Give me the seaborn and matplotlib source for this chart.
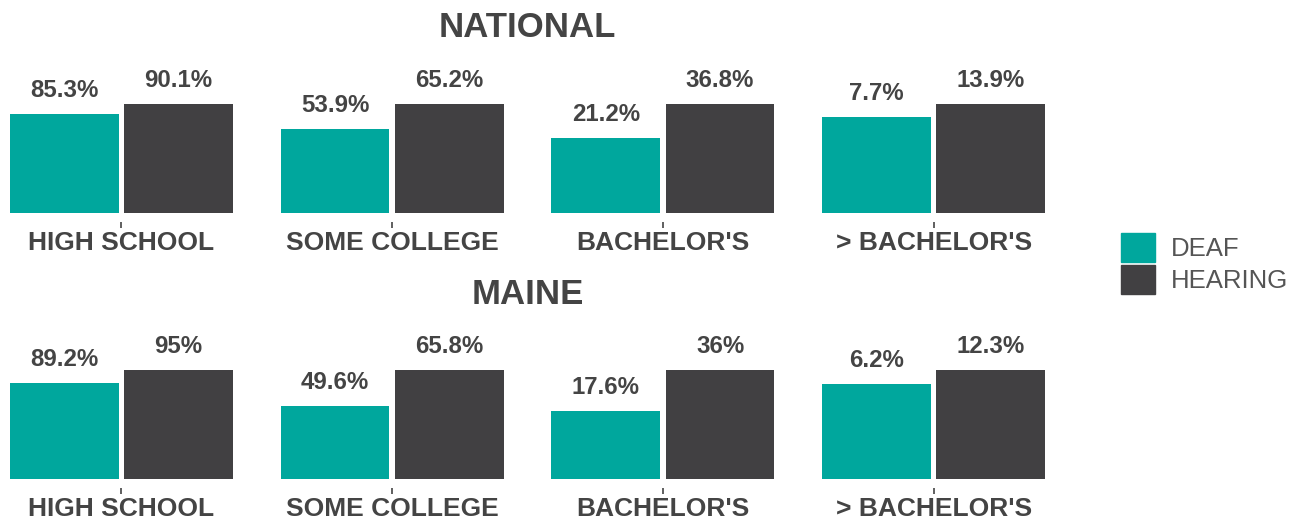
import matplotlib
matplotlib.use("Agg")
import matplotlib.pyplot as plt
import seaborn as sns
import pandas as pd

LEVELS = ["HIGH SCHOOL", "SOME COLLEGE", "BACHELOR'S", "> BACHELOR'S"]
GROUPS = ["DEAF", "HEARING"]
NATIONAL_DEAF = [85.3, 53.9, 21.2, 7.7]
NATIONAL_HEARING = [90.1, 65.2, 36.8, 13.9]
MAINE_DEAF = [89.2, 49.6, 17.6, 6.2]
MAINE_HEARING = [95, 65.8, 36, 12.3]

PALETTE = {"DEAF": "#00a79d", "HEARING": "#414042"}
TEXT = "#444444"
SPAN = 49  # each panel shows this many points below the hearing bar

sns.set_theme(style="white")
plt.rcParams["font.family"] = ["Liberation Sans", "DejaVu Sans"]

fig = plt.figure(figsize=(12.9, 5.17), dpi=100)
W, H = 1290, 517


def draw_row(deaf, hearing, title, top_px, bottom_px, title_px):
    for i, level in enumerate(LEVELS):
        left = (10 + i * 270.7) / W
        ax = fig.add_axes([left, 1 - bottom_px / H, 223 / W, (bottom_px - top_px) / H])
        df = pd.DataFrame({"level": [level, level], "group": GROUPS,
                           "pct": [deaf[i], hearing[i]]})
        sns.barplot(data=df, x="level", y="pct", hue="group", hue_order=GROUPS,
                    palette=PALETTE, width=0.8, gap=0.05, saturation=1,
                    linewidth=0, legend=False, ax=ax)
        lo = max(deaf[i], hearing[i]) - SPAN
        for p in ax.patches:
            top = p.get_y() + p.get_height()
            p.set_y(lo)
            p.set_height(top - lo)
            ax.annotate(f"{top:g}%", (p.get_x() + p.get_width() / 2, top),
                        xytext=(0, 17), textcoords="offset pixels",
                        ha="center", va="baseline", fontsize=17.3,
                        fontweight="bold", color=TEXT, annotation_clip=False)
        ax.set_ylim(lo, lo + SPAN)
        ax.set_xlim(-0.39, 0.39)
        ax.set_xlabel("")
        ax.set_ylabel("")
        ax.set_yticks([])
        for s in ["top", "right", "left"]:
            ax.spines[s].set_visible(False)
        ax.spines["bottom"].set_position(("outward", 7))
        ax.spines["bottom"].set_visible(False)
        ax.tick_params(axis="x", bottom=True, length=4, width=1.2,
                       color=TEXT, pad=2, labelsize=19, labelcolor=TEXT)
        for lab in ax.get_xticklabels():
            lab.set_fontweight("bold")
    fig.text(527.5 / W, 1 - title_px / H, title, ha="center", va="baseline",
             fontsize=25, fontweight="bold", color=TEXT)


draw_row(NATIONAL_DEAF, NATIONAL_HEARING, "NATIONAL", 103.5, 212.7, 37)
draw_row(MAINE_DEAF, MAINE_HEARING, "MAINE", 370, 478.7, 304)

handles = [plt.Rectangle((0, 0), 1, 1, color=PALETTE[g]) for g in GROUPS]
leg = fig.legend(handles, GROUPS, loc="upper left",
                 bbox_to_anchor=(1121 / W, 1 - 233 / H), frameon=False,
                 fontsize=18.5, handlelength=1.32, handleheight=1.36,
                 handletextpad=0.62, labelspacing=0.12,
                 borderpad=0, borderaxespad=0)
for t in leg.get_texts():
    t.set_color("#555555")

fig.savefig("out.png", dpi=100)
